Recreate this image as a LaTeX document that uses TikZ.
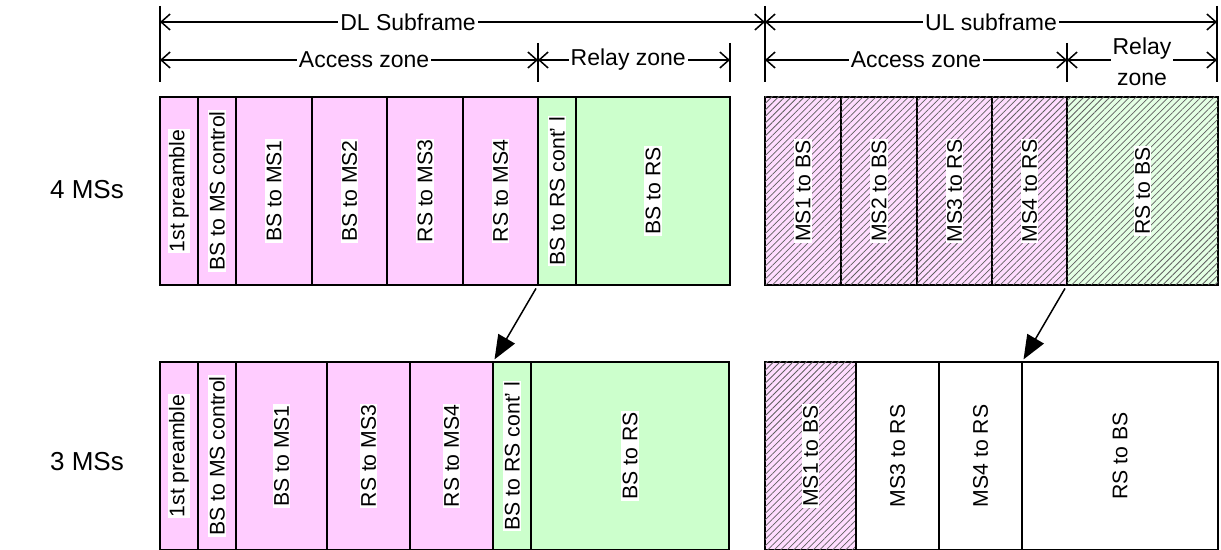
\documentclass[tikz,border=0pt]{standalone}
\usepackage{fontspec}
\setmainfont{Liberation Sans}
\usetikzlibrary{arrows.meta,patterns.meta}

\definecolor{dlpink}{HTML}{FFCCFF}
\definecolor{dlgreen}{HTML}{CCFFCC}
\definecolor{ulpink}{HTML}{FFDDFF}
\definecolor{ulgreen}{HTML}{E4FFE4}

\tikzset{
  slotbox/.style={draw, line width=1pt, anchor=north west, inner sep=0pt, outer sep=0pt, minimum height=94pt},
  pinkbox/.style={fill=dlpink},
  greenbox/.style={fill=dlgreen},
  whitebox/.style={fill=white},
  hatched/.style={postaction={pattern={Lines[angle=45,distance=2.3pt,line width=0.38pt]}, pattern color=gray!75!black}},
  ulpinkbox/.style={fill=ulpink, hatched},
  ulgreenbox/.style={fill=ulgreen, hatched},
  slottext/.style={rotate=90, fill=white, inner sep=0.6pt, font=\fontsize{10.6}{12}\selectfont},
  dimline/.style={line width=0.75pt, {Straight Barb[length=4.5pt,width=8pt]}-{Straight Barb[length=4.5pt,width=8pt]}},
  dimtext/.style={fill=white, inner sep=1pt, font=\fontsize{11.5}{15.5}\selectfont},
  extline/.style={line width=0.75pt},
  moveto/.style={line width=0.75pt, -{Triangle[length=12pt,width=9.5pt]}, shorten <=2pt, shorten >=1.5pt},
  rowtext/.style={font=\fontsize{13}{15}\selectfont}
}

% name, left, right, top, style, text
\newcommand{\slot}[6]{%
  \pgfmathsetmacro{\slotw}{(#3-#2)*0.5}%
  \node[slotbox, #5, minimum width=\slotw pt] (#1) at (#2,#4) {};
  \node[slottext] (#1t) at (#1.center) {#6};
}

\begin{document}
\begin{tikzpicture}[x=0.5pt, y=-0.5pt]
  \useasboundingbox (0,0) rectangle (1221,550);

  % dimension ends
  \coordinate (dlL) at (160,22);
  \coordinate (dlR) at (765,22);
  \coordinate (ulR) at (1217,22);
  \coordinate (daL) at (160,60);
  \coordinate (daR) at (538,60);
  \coordinate (drR) at (730,60);
  \coordinate (uaL) at (765,60);
  \coordinate (uaR) at (1067,60);
  \coordinate (urR) at (1217,60);

  % extension lines
  \foreach \x in {160,765,1217}
    \draw[extline] (\x,6) -- (\x,82);
  \foreach \x in {538,730,1067}
    \draw[extline] (\x,43) -- (\x,82);

  \draw[dimline] (dlL) -- node[dimtext, pos=0.41] (dlsub) {DL Subframe} (dlR);
  \draw[dimline] (dlR) -- node[dimtext] (ulsub) {UL subframe} (ulR);
  \draw[dimline] (daL) -- node[dimtext, pos=0.54] (dlacc) {Access zone} (daR);
  \draw[dimline] (daR) -- node[dimtext, pos=0.47] (dlrel) {Relay zone} (drR);
  \draw[dimline] (uaL) -- node[dimtext] (ulacc) {Access zone} (uaR);
  \draw[dimline] (uaR) -- node[dimtext, align=center, yshift=-1pt] (ulrel) {Relay\\zone} (urR);

  % 4 MSs
  \node[rowtext] (four) at (87,190) {4 MSs};
  \slot{d4pre}{160}{198}{97}{pinkbox}{1st preamble}
  \slot{d4ctl}{198}{236}{97}{pinkbox}{BS to MS control}
  \slot{d4ms1}{236}{312}{97}{pinkbox}{BS to MS1}
  \slot{d4ms2}{312}{387}{97}{pinkbox}{BS to MS2}
  \slot{d4ms3}{387}{463}{97}{pinkbox}{RS to MS3}
  \slot{d4ms4}{463}{538}{97}{pinkbox}{RS to MS4}
  \slot{d4cont}{538}{576}{97}{greenbox}{BS to RS cont’ l}
  \slot{d4rs}{576}{730}{97}{greenbox}{BS to RS}
  \slot{u4ms1}{765}{841}{97}{ulpinkbox}{MS1 to BS}
  \slot{u4ms2}{841}{917}{97}{ulpinkbox}{MS2 to BS}
  \slot{u4ms3}{917}{992}{97}{ulpinkbox}{MS3 to RS}
  \slot{u4ms4}{992}{1067}{97}{ulpinkbox}{MS4 to RS}
  \slot{u4rs}{1067}{1218}{97}{ulgreenbox}{RS to BS}

  % 3 MSs
  \node[rowtext] (three) at (87,462) {3 MSs};
  \slot{d3pre}{160}{198}{362}{pinkbox}{1st preamble}
  \slot{d3ctl}{198}{236}{362}{pinkbox}{BS to MS control}
  \slot{d3ms1}{236}{327}{362}{pinkbox}{BS to MS1}
  \slot{d3ms3}{327}{410}{362}{pinkbox}{RS to MS3}
  \slot{d3ms4}{410}{493}{362}{pinkbox}{RS to MS4}
  \slot{d3cont}{493}{531}{362}{greenbox}{BS to RS cont’ l}
  \slot{d3rs}{531}{729}{362}{greenbox}{BS to RS}
  \slot{u3ms1}{765}{856}{362}{ulpinkbox}{MS1 to BS}
  \slot{u3ms3}{856}{939}{362}{whitebox}{MS3 to RS}
  \slot{u3ms4}{939}{1022}{362}{whitebox}{MS4 to RS}
  \slot{u3rs}{1022}{1218}{362}{whitebox}{RS to BS}

  \draw[moveto] (d4cont.south west) -- (d3cont.north west);
  \draw[moveto] (u4rs.south west) -- (u3rs.north west);
\end{tikzpicture}
\end{document}
